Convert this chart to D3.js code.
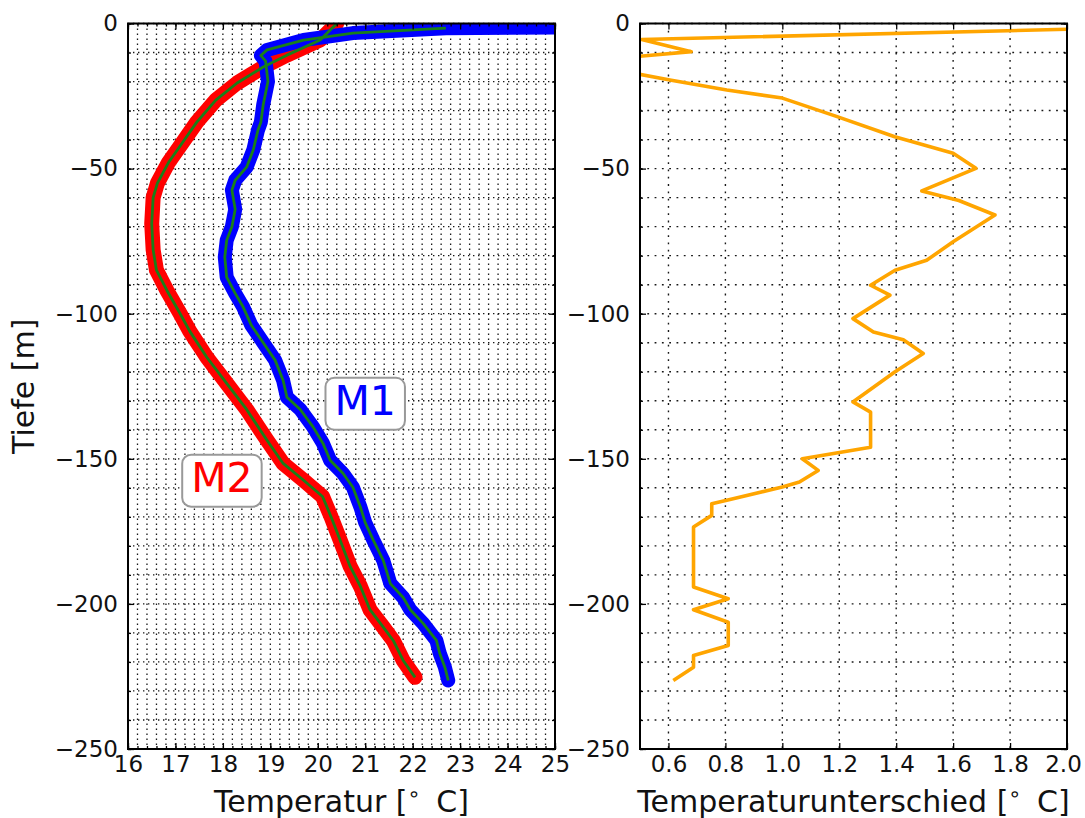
<!DOCTYPE html>
<html><head><meta charset="utf-8">
<script src="https://cdn.jsdelivr.net/npm/d3@7"></script>
<style>
body{margin:0;background:#fff}
svg{display:block}
text{font-family:"DejaVu Sans",sans-serif;fill:#111}
</style>
</head><body>
<svg id="chart" width="1085" height="818"></svg>
<script>
// ---- data ----
const m1Temp  = [25.5, 22.7, 20.74, 19.7, 18.93, 18.8, 18.9, 18.95, 18.85, 18.8, 18.74, 18.64, 18.5, 18.26, 18.19, 18.26, 18.19, 18.08, 18.04, 18.08, 18.26, 18.43, 18.6, 18.85, 19.1, 19.27, 19.35, 19.63, 19.9, 20.11, 20.26, 20.53, 20.74, 20.9, 21.0, 21.17, 21.38, 21.53, 21.8, 21.95, 22.22, 22.5, 22.57, 22.68, 22.75];
const m1Depth = [-1.3, -1.6, -3.3, -5.7, -9.1, -11, -13, -20, -28, -34, -36.7, -43.6, -49.5, -54, -57.4, -64, -70, -74.7, -80.5, -87.4, -93, -97.8, -104, -110, -116, -123, -128.8, -133, -139, -144.7, -150.5, -155, -159.8, -166.7, -172, -178, -185, -193, -197.8, -202, -206.7, -212.6, -217, -221.9, -226.4];
const m2Temp  = [20.4, 20.05, 19.35, 18.85, 18.3, 17.85, 17.45, 17.15, 16.85, 16.62, 16.53, 16.5, 16.53, 16.6, 16.82, 17.1, 17.3, 17.66, 18.08, 18.5, 18.93, 19.27, 19.7, 20.1, 20.28, 20.47, 20.68, 20.9, 21.1, 21.38, 21.59, 21.8, 22.05];
const m2Depth = [0, -5.7, -10.9, -15, -20.5, -26.4, -34, -41, -48, -55, -60, -69, -78, -85, -92, -100, -106, -115, -124, -133, -143.6, -151.6, -157.4, -163, -170, -178, -187, -194, -202, -208, -212.6, -219.5, -225.3];
const diffVal   = [2.0, 0.506, 0.68, 0.42, 0.42, 0.605, 0.805, 1.0, 1.19, 1.395, 1.6, 1.68, 1.49, 1.62, 1.747, 1.6, 1.507, 1.396, 1.31, 1.378, 1.248, 1.32, 1.425, 1.495, 1.396, 1.248, 1.31, 1.31, 1.07, 1.126, 1.06, 1.0, 0.805, 0.752, 0.752, 0.688, 0.688, 0.81, 0.688, 0.81, 0.81, 0.688, 0.688, 0.617];
const diffDepth = [-2.0, -5.5, -9.7, -12, -16, -19.5, -22.9, -25.7, -32, -39, -44.7, -49.9, -57.7, -61, -66, -75.2, -81.6, -85, -90.2, -93.6, -101.7, -106.3, -109, -113.7, -120, -130.4, -133.9, -146, -150, -154, -158, -159.7, -164.3, -165.5, -169.5, -173.5, -194.2, -198.2, -202, -206.3, -214.3, -217.8, -221.8, -226.4];
const tempTicks  = [16, 17, 18, 19, 20, 21, 22, 23, 24, 25];
const depthTicks = [0, -50, -100, -150, -200, -250];
const diffTicks  = [0.6, 0.8, 1.0, 1.2, 1.4, 1.6, 1.8, 2.0];
const seriesLabels = [
  {text: "M1", t: 21.0, d: -130, color: "#0000ff"},
  {text: "M2", t: 17.98, d: -156.5, color: "#ff0000"}
];

// ---- layout ----
const svg = d3.select("#chart");
const yTop = 23.5, yBot = 749;
const y = d3.scaleLinear().domain([0, -250]).range([yTop, yBot]);
const xL = d3.scaleLinear().domain([16, 25]).range([128, 555]);
const xR = d3.scaleLinear().domain([0.5, 2.0]).range([640, 1067]);

const tempMinor = d3.range(16, 25.0001, 0.2);
const depthMinor = d3.range(0, -250.0001, -10);
const fmt = v => String(v).replace("-", "\u2212");

const defs = svg.append("defs");
function clip(id, x) {
  defs.append("clipPath").attr("id", id).append("rect")
    .attr("x", x.range()[0]).attr("y", yTop)
    .attr("width", x.range()[1] - x.range()[0]).attr("height", yBot - yTop);
}
clip("clipL", xL); clip("clipR", xR);

function grid(g, x, xs, dash, w) {
  g.selectAll("line.v").data(xs).join("line").attr("class", "v")
    .attr("x1", d => x(d)).attr("x2", d => x(d))
    .attr("y1", yTop).attr("y2", yBot);
  g.selectAll("line.h").data(depthMinor).join("line").attr("class", "h")
    .attr("y1", d => y(d)).attr("y2", d => y(d))
    .attr("x1", x.range()[0]).attr("x2", x.range()[1]);
  g.selectAll("line").attr("stroke", "#000").attr("stroke-width", w)
    .attr("stroke-dasharray", dash).attr("opacity", 0.9);
}
grid(svg.append("g"), xL, tempMinor, "1.4,3.6", 1.3);
grid(svg.append("g"), xR, diffTicks.slice(0, -1), "1.8,5.5", 1.4);

// ---- left panel curves ----
const line = (x) => d3.line().x(d => x(d[0])).y(d => y(d[1]));
const m1 = d3.zip(m1Temp, m1Depth);
const m2 = d3.zip(m2Temp, m2Depth);
const gL = svg.append("g").attr("clip-path", "url(#clipL)");
gL.append("path").datum(m2).attr("d", line(xL)).attr("fill", "none")
  .attr("stroke", "#ff0000").attr("stroke-width", 15)
  .attr("stroke-linejoin", "round").attr("stroke-linecap", "round");
gL.append("path").datum(m1).attr("d", line(xL)).attr("fill", "none")
  .attr("stroke", "#0000ff").attr("stroke-width", 14)
  .attr("stroke-linejoin", "round").attr("stroke-linecap", "round");
gL.append("path").datum(m2).attr("d", line(xL)).attr("fill", "none")
  .attr("stroke", "#1a7f1a").attr("stroke-width", 2.8).attr("stroke-linejoin", "round");
gL.append("path").datum(m1.slice(1)).attr("d", line(xL)).attr("fill", "none")
  .attr("stroke", "#1a7f1a").attr("stroke-width", 2.8).attr("stroke-linejoin", "round");

// ---- right panel curve ----
const gR = svg.append("g").attr("clip-path", "url(#clipR)");
gR.append("path").datum(d3.zip(diffVal, diffDepth)).attr("d", line(xR))
  .attr("fill", "none").attr("stroke", "#ffa500").attr("stroke-width", 3.6)
  .attr("stroke-linejoin", "round");

// ---- frames ----
[xL, xR].forEach(x => {
  svg.append("rect").attr("x", x.range()[0]).attr("y", yTop)
    .attr("width", x.range()[1] - x.range()[0]).attr("height", yBot - yTop)
    .attr("fill", "none").attr("stroke", "#000").attr("stroke-width", 2);
});

// ---- axes ----
function styleAxis(g) {
  g.select(".domain").remove();
  g.selectAll(".tick line").attr("stroke", "#000").attr("stroke-width", 1.3);
  g.selectAll("text").style("font-size", "23px").attr("fill", "#111");
}
function panelAxes(x, xMajor, xMinor, dec) {
  const x0 = x.range()[0], x1 = x.range()[1];
  const gb = svg.append("g").attr("transform", `translate(0,${yBot})`)
    .call(d3.axisBottom(x).tickValues(xMajor).tickSize(-6).tickPadding(7)
      .tickFormat(d => d.toFixed(dec))).call(styleAxis);
  // keep the right-most label inside the page
  gb.selectAll(".tick text").filter(d => x(d) > 1060).attr("dx", -4);
  svg.append("g").attr("transform", `translate(0,${yTop})`)
    .call(d3.axisTop(x).tickValues(xMajor).tickSize(-6).tickFormat("")).call(styleAxis);
  if (xMinor) {
    svg.append("g").attr("transform", `translate(0,${yBot})`)
      .call(d3.axisBottom(x).tickValues(xMinor).tickSize(-3).tickFormat("")).call(styleAxis);
    svg.append("g").attr("transform", `translate(0,${yTop})`)
      .call(d3.axisTop(x).tickValues(xMinor).tickSize(-3).tickFormat("")).call(styleAxis);
  }
  svg.append("g").attr("transform", `translate(${x0},0)`)
    .call(d3.axisLeft(y).tickValues(depthTicks).tickSize(-6).tickPadding(10)
      .tickFormat(fmt)).call(styleAxis);
  svg.append("g").attr("transform", `translate(${x1},0)`)
    .call(d3.axisRight(y).tickValues(depthTicks).tickSize(-6).tickFormat("")).call(styleAxis);
  svg.append("g").attr("transform", `translate(${x0},0)`)
    .call(d3.axisLeft(y).tickValues(depthMinor).tickSize(-3).tickFormat("")).call(styleAxis);
  svg.append("g").attr("transform", `translate(${x1},0)`)
    .call(d3.axisRight(y).tickValues(depthMinor).tickSize(-3).tickFormat("")).call(styleAxis);
}
panelAxes(xL, tempTicks, tempMinor, 0);
panelAxes(xR, diffTicks, null, 1);

// ---- axis titles ----
function xTitle(cx, label) {
  const t = svg.append("text").attr("x", cx).attr("y", 812)
    .attr("text-anchor", "middle").style("font-size", "30px");
  t.append("tspan").text(label + " [");
  t.append("tspan").text("\u2218").style("font-size", "21px").attr("dy", -11);
  t.append("tspan").text("\u2009 C]").attr("dy", 11);
}
xTitle((xL.range()[0] + xL.range()[1]) / 2, "Temperatur");
xTitle((xR.range()[0] + xR.range()[1]) / 2, "Temperaturunterschied");
svg.append("text").attr("transform", `translate(34,${(yTop + yBot) / 2}) rotate(-90)`)
  .attr("text-anchor", "middle").style("font-size", "30px").text("Tiefe [m]");

// ---- series labels ----
seriesLabels.forEach(s => {
  const g = svg.append("g");
  const t = g.append("text").attr("x", xL(s.t)).attr("y", y(s.d))
    .attr("text-anchor", "middle").attr("dominant-baseline", "central")
    .style("font-size", "41px").style("fill", s.color).text(s.text);
  const bb = t.node().getBBox();
  g.insert("rect", "text").attr("x", bb.x - 9).attr("y", bb.y + 1)
    .attr("width", bb.width + 18).attr("height", bb.height + 4)
    .attr("rx", 9).attr("fill", "#fff").attr("stroke", "#999").attr("stroke-width", 2);
});
</script>
</body></html>
